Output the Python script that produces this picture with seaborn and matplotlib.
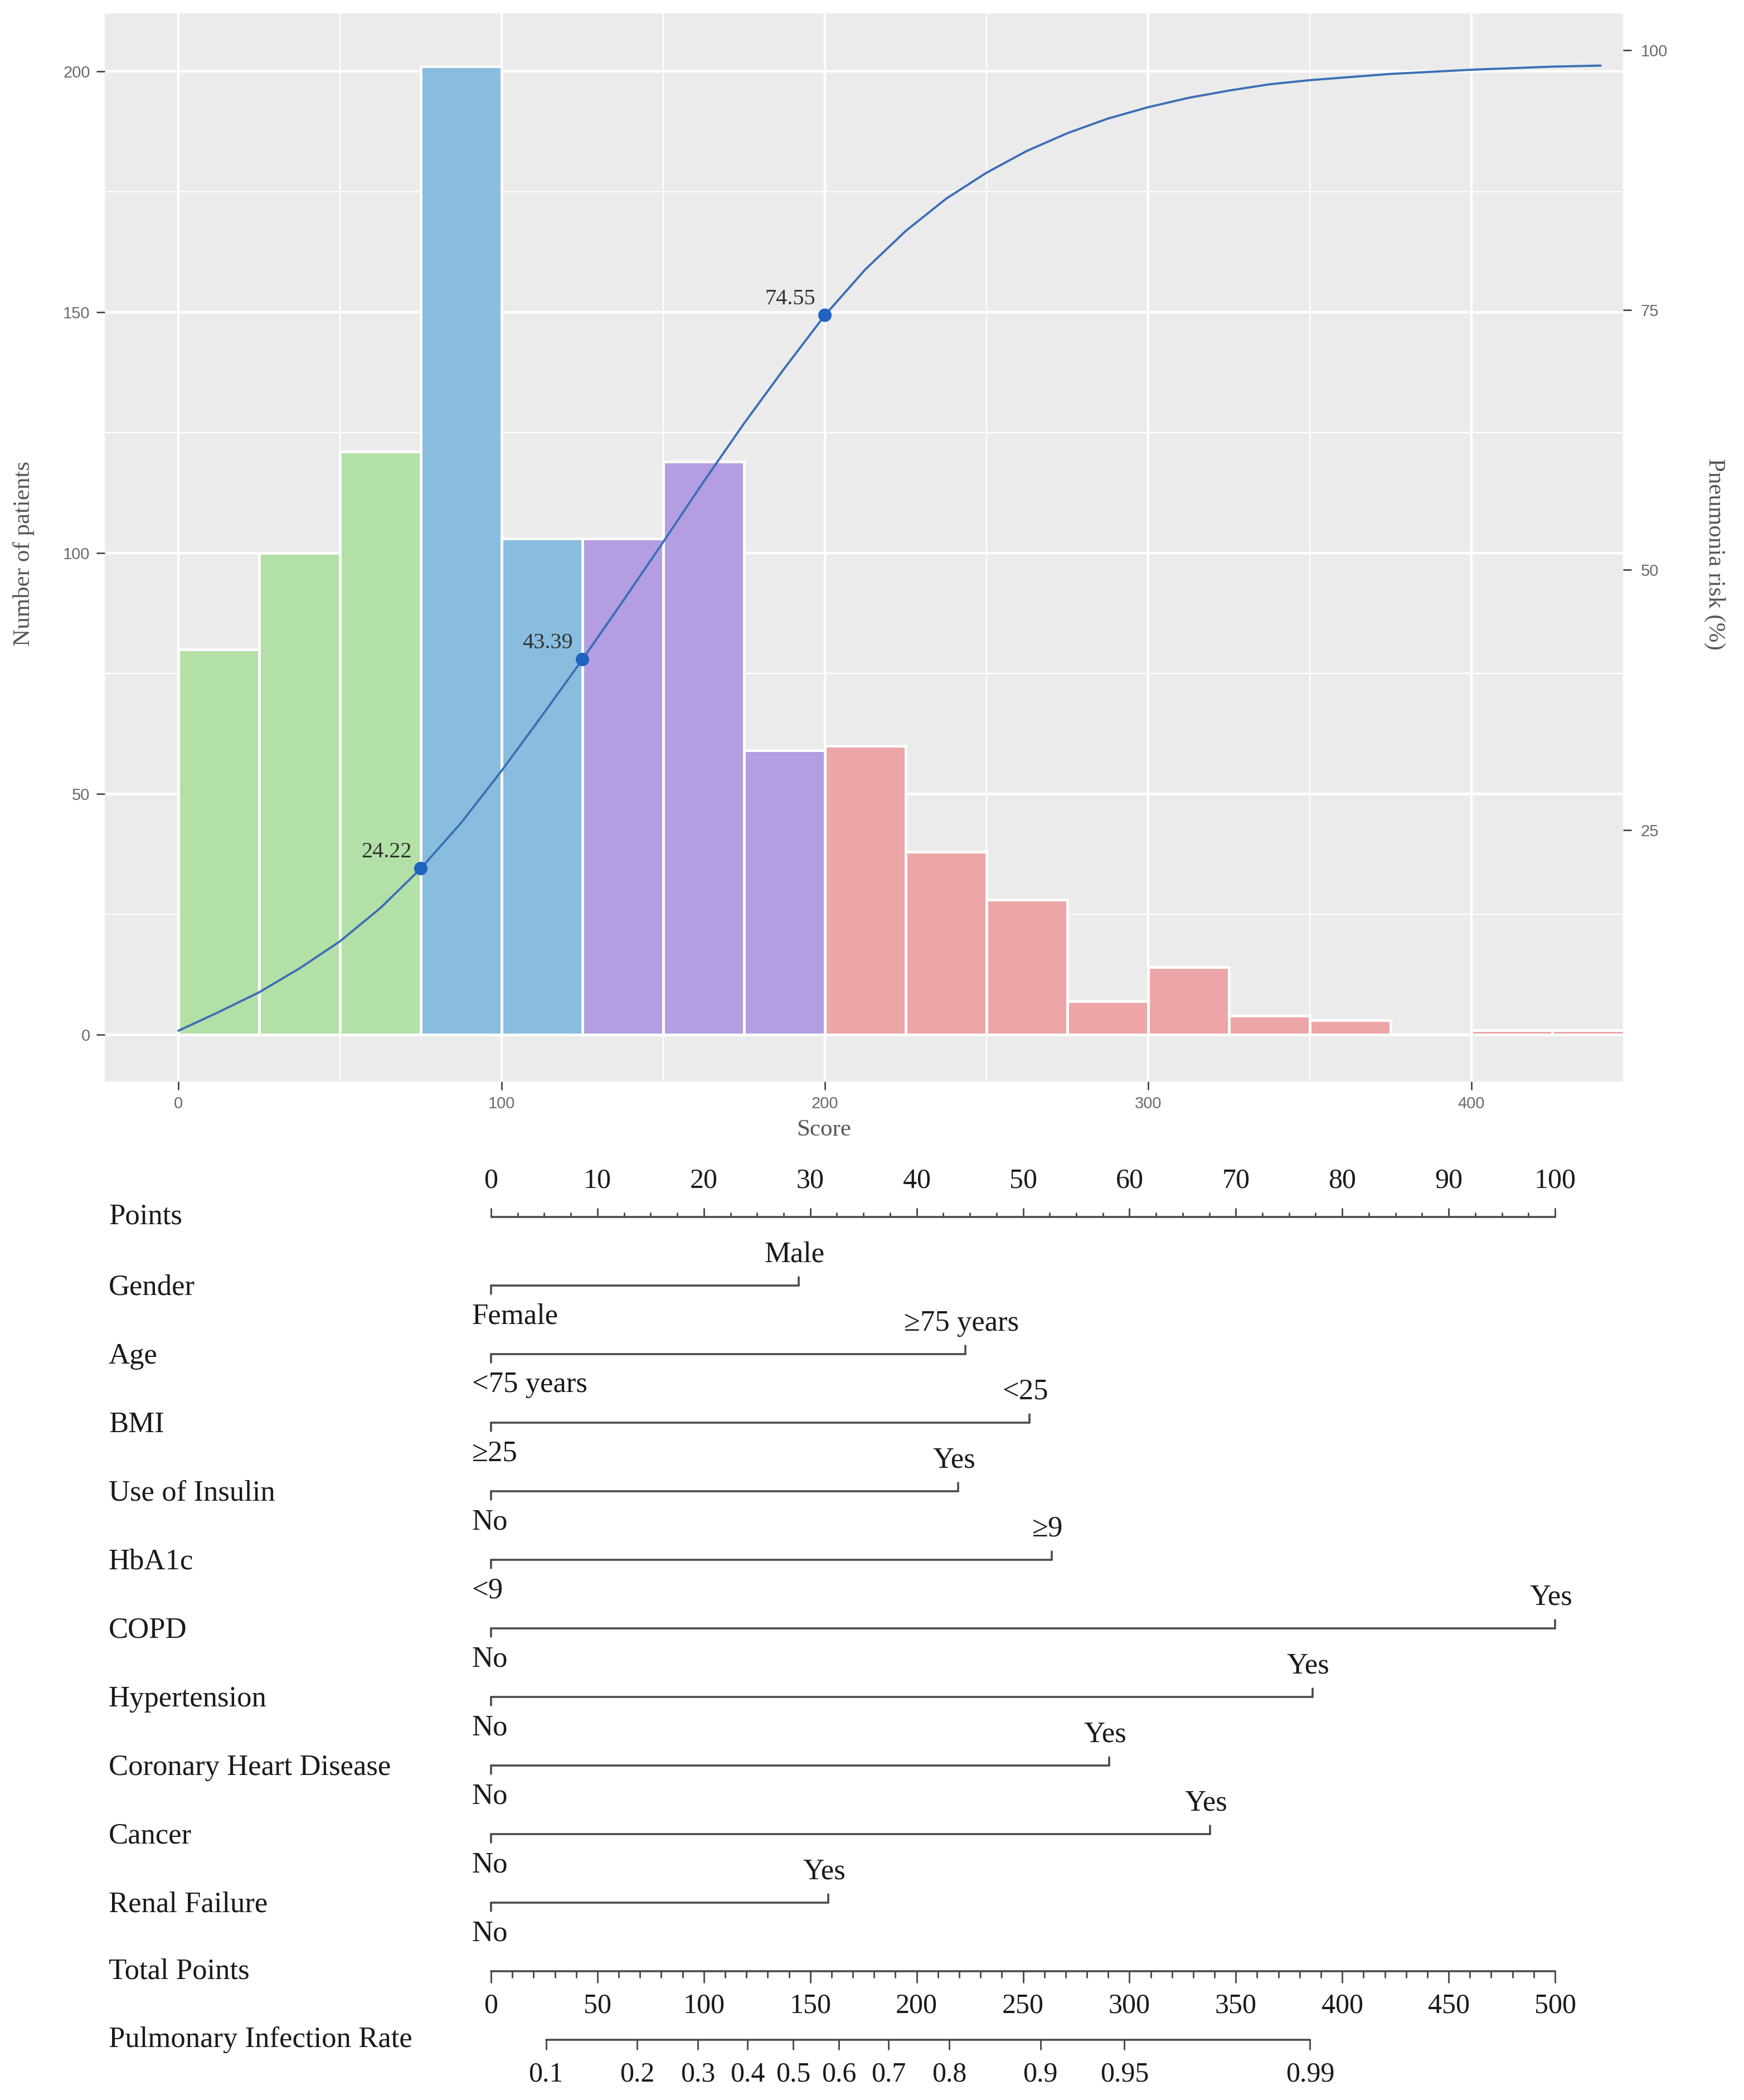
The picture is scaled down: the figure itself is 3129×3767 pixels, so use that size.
import numpy as np
import pandas as pd
import matplotlib
matplotlib.use("Agg")
import matplotlib.pyplot as plt
import seaborn as sns

# ------------------------------------------------------------------ data
bin_edges = [0, 25, 50, 75, 100, 125, 150, 175, 200, 225, 250, 275, 300,
             325, 350, 375, 400, 425, 450]
bin_counts = [80, 100, 121, 201, 103, 103, 119, 59, 60, 38, 28, 7, 14,
              4, 3, 0, 1, 1]
bin_groups = (["g1"] * 3 + ["g2"] * 2 + ["g3"] * 3 + ["g4"] * 10)
group_colors = {"g1": "#B3E0A6", "g2": "#89BDE0", "g3": "#B39EE2",
                "g4": "#EDA6A7"}

curve_score = [0, 12.5, 25, 37.5, 50, 62.5, 75, 87.5, 100, 112.5, 125,
               137.5, 150, 162.5, 175, 187.5, 200, 212.5, 225, 237.5, 250,
               262.5, 275, 287.5, 300, 312.5, 325, 337.5, 350, 362.5, 375,
               387.5, 400, 412.5, 425, 440]
curve_risk = [5.7, 7.5, 9.4, 11.7, 14.3, 17.5, 21.3, 25.7, 30.7, 36.0,
              41.4, 47.0, 52.7, 58.5, 64.1, 69.4, 74.5, 78.9, 82.6, 85.7,
              88.2, 90.3, 92.0, 93.4, 94.5, 95.4, 96.1, 96.7, 97.1, 97.4,
              97.7, 97.9, 98.1, 98.25, 98.4, 98.5]
marker_score = [75, 125, 200]
marker_risk = [21.3, 41.4, 74.5]
marker_label = ["24.22", "43.39", "74.55"]

score_ticks = [0, 100, 200, 300, 400]
count_ticks = [0, 50, 100, 150, 200]
risk_ticks = [25, 50, 75, 100]

nomo_vars = ["Gender", "Age", "BMI", "Use of Insulin", "HbA1c", "COPD",
             "Hypertension", "Coronary Heart Disease", "Cancer",
             "Renal Failure"]
nomo_low = ["Female", "<75 years", "\u226525", "No", "<9", "No", "No",
            "No", "No", "No"]
nomo_high = ["Male", "\u226575 years", "<25", "Yes", "\u22659", "Yes",
             "Yes", "Yes", "Yes", "Yes"]
nomo_points = [28.9, 44.6, 50.6, 43.9, 52.7, 100, 77.2, 58.1, 67.6, 31.7]

points_major = list(range(0, 101, 10))
total_major = list(range(0, 501, 50))
rate_ticks = [0.1, 0.2, 0.3, 0.4, 0.5, 0.6, 0.7, 0.8, 0.9, 0.95, 0.99]
rate_labels = ["0.1", "0.2", "0.3", "0.4", "0.5", "0.6", "0.7", "0.8",
               "0.9", "0.95", "0.99"]
rate_total_at_50 = 142.0     # total points where risk = 0.5
rate_slope = 0.01892         # logit change per total point

# ------------------------------------------------------------------ style
sns.set_theme(style="darkgrid")
SERIF = ["Liberation Serif", "DejaVu Serif"]
SANS = ["Liberation Sans", "DejaVu Sans"]
plt.rcParams["font.family"] = SANS

W, H = 3129, 3767
fig = plt.figure(figsize=(W / 100, H / 100), dpi=100)
fig.patch.set_facecolor("white")

# ------------------------------------------------------------------ top panel
L, R, T, B = 188, 2912, 24, 1940
ax = fig.add_axes([L / W, 1 - B / H, (R - L) / W, (B - T) / H])
ax.set_facecolor("#EBEBEB")

mid = [(bin_edges[i] + bin_edges[i + 1]) / 2 for i in range(len(bin_counts))]
df = pd.DataFrame({"score": mid, "count": bin_counts, "group": bin_groups})
sns.histplot(data=df, x="score", weights="count", bins=bin_edges,
             hue="group", hue_order=["g1", "g2", "g3", "g4"],
             palette=group_colors, alpha=1, edgecolor="white",
             linewidth=3.5, legend=False, multiple="layer", ax=ax)

ylo, yhi = -9.7, 212.0
ax.set_xlim(-22.76, 446.9)
ax.set_ylim(ylo, yhi)
ax.set_axisbelow(True)
ax.set_xticks(score_ticks)
ax.set_yticks(count_ticks)
ax.set_xticks([50, 150, 250, 350], minor=True)
ax.set_yticks([25, 75, 125, 175], minor=True)
ax.grid(which="major", color="white", lw=3.2)
ax.grid(which="minor", color="white", lw=1.6)
ax.tick_params(which="minor", length=0)
ax.tick_params(which="major", length=11, width=1.8, color="#333333",
               labelsize=21, labelcolor="#6a6a6a", pad=8,
               left=True, bottom=True)
for s in ax.spines.values():
    s.set_visible(False)

ax.set_xlabel("Score", fontsize=31, color="#555555", family=SERIF,
              va="center")
ax.set_ylabel("Number of patients", fontsize=31, color="#555555",
              family=SERIF, va="center")
ax.xaxis.set_label_coords((1478 - L) / (R - L), (B - 2027) / (B - T))
ax.yaxis.set_label_coords((43 - L) / (R - L), 0.494)

sec_off, sec_scale = 11.47, 2.1587
ax2 = ax.twinx()
ax2.set_ylim((ylo + sec_off) / sec_scale, (yhi + sec_off) / sec_scale)
ax2.grid(False)
sns.lineplot(x=curve_score, y=curve_risk, ax=ax2, color="#3B6FB6", lw=2.8,
             solid_joinstyle="round", solid_capstyle="round")
sns.scatterplot(x=marker_score, y=marker_risk, ax=ax2, color="#1F62BF",
                s=300, edgecolor="none", zorder=5)
for xs, yr, lab in zip(marker_score, marker_risk, marker_label):
    ax2.annotate(lab, (xs, yr), xytext=(-12, 21), textcoords="offset points",
                 ha="right", va="center", fontsize=29, color="#333333",
                 family=SERIF)
ax2.set_yticks(risk_ticks)
ax2.set_yticklabels([str(t) for t in risk_ticks])
ax2.tick_params(axis="y", length=11, width=1.8, color="#333333",
                labelsize=21, labelcolor="#6a6a6a", pad=12, right=True)
for s in ax2.spines.values():
    s.set_visible(False)
ax2.set_ylabel("Pneumonia risk (%)", fontsize=31, color="#555555",
               family=SERIF, rotation=270, va="center")
ax2.yaxis.set_label_coords((3076 - L) / (R - L), 0.494)

# ------------------------------------------------------------------ nomogram
px0, px_per_pt = 881, 19.09
row0_px, row_step = 2183, 123
top_px = 2050
nax = fig.add_axes([0, 0, 1, 1 - top_px / H])
nax.set_xlim(-px0 / px_per_pt, (W - px0) / px_per_pt)
nax.set_ylim((H - row0_px) / row_step, (top_px - row0_px) / row_step)
nax.axis("off")

LC = "#4a4a4a"
TC = "#1a1a1a"
LW = 2.6
name_x = (195 - px0) / px_per_pt
FS_NAME = 38
FS_NUM = 36

# Points row
r = 0
nax.text(name_x, r, "Points", ha="left", va="center", fontsize=FS_NAME,
         color=TC, family=SERIF)
nax.plot([0, 100], [r, r], color=LC, lw=LW, solid_capstyle="butt")
for v in np.arange(0, 100.01, 2.5):
    ln = 0.12 if v % 10 == 0 else 0.06
    nax.plot([v, v], [r, r - ln], color=LC, lw=LW * 0.8)
for v in points_major:
    nax.text(v, r - 0.53, str(v), ha="center", va="center",
             fontsize=FS_NUM, color=TC, family=SERIF)

# variable rows
for i, (name, lo, hi, p) in enumerate(zip(nomo_vars, nomo_low, nomo_high,
                                          nomo_points)):
    r = i + 1
    nax.text(name_x, r + 0.03, name, ha="left", va="center",
             fontsize=FS_NAME, color=TC, family=SERIF)
    nax.plot([0, p], [r, r], color=LC, lw=LW)
    nax.plot([0, 0], [r, r + 0.12], color=LC, lw=LW)
    nax.plot([p, p], [r, r - 0.12], color=LC, lw=LW)
    nax.text(p - 0.4, r - 0.45, hi, ha="center", va="center",
             fontsize=FS_NAME, color=TC, family=SERIF)
    nax.text(-1.8, r + 0.45, lo, ha="left", va="center", fontsize=FS_NAME,
             color=TC, family=SERIF)

# Total points row
r = len(nomo_vars) + 1
nax.text(name_x, r, "Total Points", ha="left", va="center",
         fontsize=FS_NAME, color=TC, family=SERIF)
nax.plot([0, 100], [r, r], color=LC, lw=LW)
for t in range(0, 501, 10):
    ln = 0.16 if t % 50 == 0 else 0.09
    nax.plot([t / 5, t / 5], [r, r + ln], color=LC, lw=LW * 0.8)
for t in total_major:
    nax.text(t / 5, r + 0.51, str(t), ha="center", va="center",
             fontsize=FS_NUM, color=TC, family=SERIF)

# Pulmonary infection rate row
r = len(nomo_vars) + 2
nax.text(name_x, r, "Pulmonary Infection Rate", ha="left", va="center",
         fontsize=FS_NAME, color=TC, family=SERIF)
rate_total = [rate_total_at_50 + np.log(p / (1 - p)) / rate_slope
              for p in rate_ticks]
rate_pts = [t / 5 for t in rate_total]
nax.plot([rate_pts[0], rate_pts[-1]], [r, r], color=LC, lw=LW)
for xp, lab in zip(rate_pts, rate_labels):
    nax.plot([xp, xp], [r, r + 0.14], color=LC, lw=LW * 0.8)
    nax.text(xp, r + 0.51, lab, ha="center", va="center", fontsize=FS_NUM,
             color=TC, family=SERIF)

fig.savefig("out.png", dpi=100)
